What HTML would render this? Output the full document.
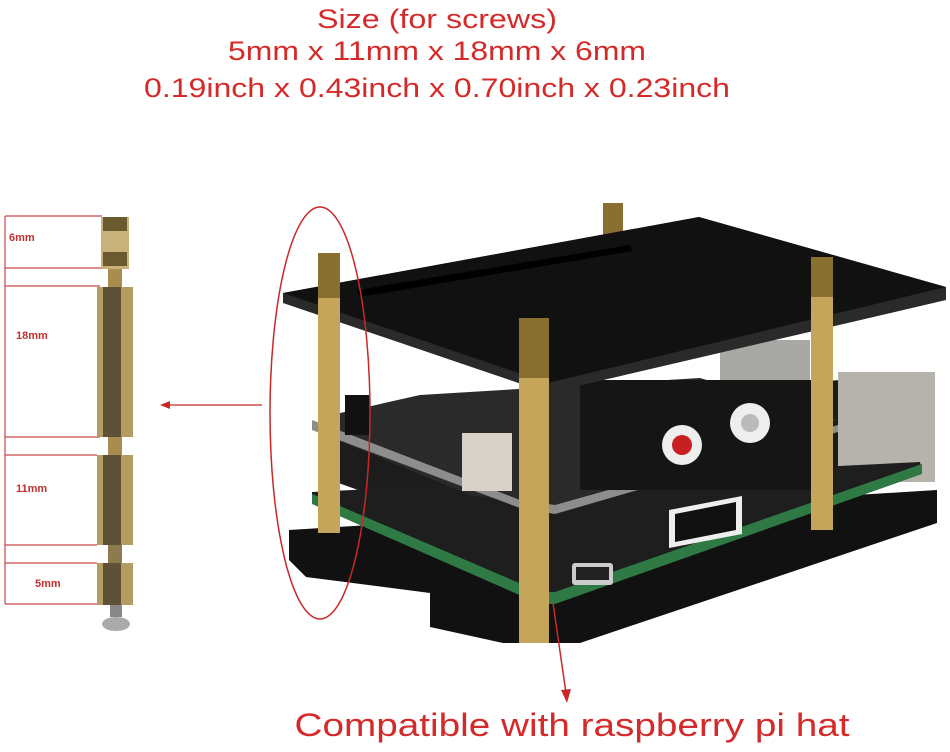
<!DOCTYPE html>
<html><head><meta charset="utf-8"><style>
html,body{margin:0;padding:0;background:#fff;}
body{width:950px;height:752px;overflow:hidden;}
svg{display:block}
</style></head><body>
<svg width="950" height="752" viewBox="0 0 950 752" xmlns="http://www.w3.org/2000/svg">
<rect width="950" height="752" fill="#fff"/>
<g font-family="Liberation Sans, sans-serif" fill="#d42a2a" text-anchor="middle">
<text x="437" y="28" font-size="27" textLength="240" lengthAdjust="spacingAndGlyphs">Size (for screws)</text>
<text x="437" y="60" font-size="27" textLength="418" lengthAdjust="spacingAndGlyphs">5mm x 11mm x 18mm x 6mm</text>
<text x="437" y="97" font-size="27" textLength="586" lengthAdjust="spacingAndGlyphs">0.19inch x 0.43inch x 0.70inch x 0.23inch</text>
<text x="572" y="736" font-size="32" textLength="555" lengthAdjust="spacingAndGlyphs">Compatible with raspberry pi hat</text>
</g>
<!-- ruler -->
<g stroke="#c84848" stroke-width="1.2" fill="none">
<line x1="5" y1="216" x2="5" y2="604"/>
<line x1="5" y1="216" x2="102" y2="216"/>
<line x1="5" y1="268" x2="102" y2="268"/>
<line x1="5" y1="286" x2="100" y2="286"/>
<line x1="5" y1="437" x2="100" y2="437"/>
<line x1="5" y1="455" x2="97" y2="455"/>
<line x1="5" y1="545" x2="97" y2="545"/>
<line x1="5" y1="563" x2="97" y2="563"/>
<line x1="5" y1="604" x2="100" y2="604"/>
</g>
<g font-family="Liberation Sans, sans-serif" font-size="11" fill="#c03030" font-weight="bold">
<text x="9" y="241">6mm</text><text x="16" y="339">18mm</text><text x="16" y="492">11mm</text><text x="35" y="587">5mm</text>
</g>
<!-- screw stack -->
<g>
<rect x="101" y="217" width="28" height="52" fill="#c9b27a"/>
<rect x="103" y="217" width="24" height="14" fill="#6b5a30"/>
<rect x="103" y="252" width="24" height="14" fill="#6b5a30"/>
<rect x="108" y="269" width="14" height="18" fill="#a98d4f"/>
<rect x="97" y="287" width="36" height="150" fill="#b49c62"/>
<rect x="103" y="287" width="18" height="150" fill="#5e5138"/>
<rect x="108" y="437" width="14" height="18" fill="#a98d4f"/>
<rect x="97" y="455" width="36" height="90" fill="#b49c62"/>
<rect x="103" y="455" width="18" height="90" fill="#5e5138"/>
<rect x="108" y="545" width="14" height="18" fill="#8c7a50"/>
<rect x="97" y="563" width="36" height="42" fill="#b49c62"/>
<rect x="103" y="563" width="18" height="42" fill="#5e5138"/>
<rect x="110" y="605" width="12" height="12" fill="#888"/>
<ellipse cx="116" cy="624" rx="14" ry="7" fill="#aaa"/>
</g>
<line x1="262" y1="405" x2="168" y2="405" stroke="#c82828" stroke-width="1.2"/>
<polygon points="160,405 170,401 170,409" fill="#c82828"/>
<!-- bottom plate -->
<polygon points="289,530 937,490 937,523 580,643 503,643 430,627 430,593 306,577 289,560" fill="#111"/>
<!-- dark interior between boards -->
<polygon points="330,420 840,380 840,470 555,560 330,480" fill="#1c1c1c"/>
<!-- ethernet & usb -->
<polygon points="838,372 935,372 935,482 838,482" fill="#b5b3ab"/>
<rect x="720" y="340" width="90" height="50" fill="#a8a8a4"/>
<!-- pcb -->
<polygon points="312,492 920,462 922,472 555,600 540,600 312,502" fill="#1e1e1e"/>
<polygon points="312,494 540,592 555,592 922,464 922,474 555,604 540,604 312,504" fill="#2f7a44"/>
<!-- hdmi & micro usb -->
<polygon points="669,510 742,496 742,534 669,548" fill="#eee"/>
<polygon points="675,514 736,502 736,530 675,542" fill="#111"/>
<rect x="572" y="563" width="41" height="22" rx="3" fill="#ccc"/>
<rect x="576" y="567" width="33" height="13" fill="#222"/>
<!-- hat board -->
<polygon points="318,418 420,395 700,378 838,420 555,505 470,495 318,432" fill="#2a2a2a"/>
<polygon points="312,420 520,500 555,505 838,425 838,432 555,514 520,508 312,430" fill="#8d8d8d"/>
<rect x="580" y="380" width="232" height="110" fill="#151515"/>
<circle cx="682" cy="445" r="20" fill="#eee"/><circle cx="682" cy="445" r="10" fill="#c82020"/>
<circle cx="750" cy="423" r="20" fill="#eee"/><circle cx="750" cy="423" r="9" fill="#bbb"/>
<rect x="462" y="433" width="50" height="58" fill="#d8d2c8"/>
<rect x="345" y="395" width="25" height="40" fill="#111"/>
<!-- back post -->
<rect x="603" y="203" width="20" height="70" fill="#8a7030"/>
<!-- top plate -->
<polygon points="283,293 699,217 946,287 946,300 548,393 283,303" fill="#2a2a2a"/>
<polygon points="283,293 699,217 946,287 548,383" fill="#111"/>
<polygon points="357,290 630,245 632,251 360,297" fill="#000"/>
<!-- posts -->
<g fill="#c4a55a">
<rect x="318" y="253" width="22" height="280"/>
<rect x="519" y="318" width="30" height="325"/>
<rect x="811" y="257" width="22" height="273"/>
</g>
<g fill="#8a7030">
<rect x="318" y="253" width="22" height="45"/><rect x="519" y="318" width="30" height="60"/>
<rect x="811" y="257" width="22" height="40"/>
</g>
<!-- red ellipse & line -->
<ellipse cx="320" cy="413" rx="50" ry="206" fill="none" stroke="#c82828" stroke-width="1.5"/>
<line x1="553" y1="603" x2="566" y2="693" stroke="#c82828" stroke-width="1.5"/>
<polygon points="567,703 561,690 571,689" fill="#c82828"/>
</svg>
</body></html>
